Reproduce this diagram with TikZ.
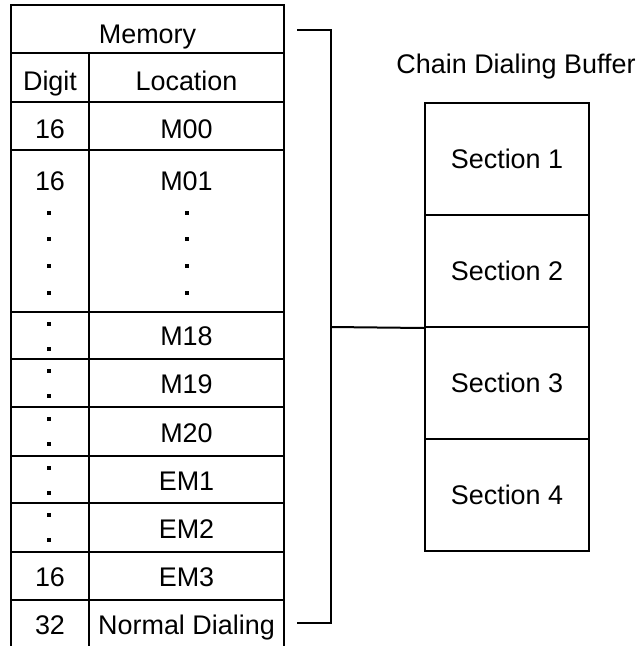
\documentclass[tikz,border=0pt]{standalone}
\usepackage{fontspec}
\setmainfont{Liberation Sans}
\begin{document}
\begin{tikzpicture}[
          tx/.style={inner sep=0pt, text height=14.5pt, text depth=0pt,
            font=\fontsize{20.2}{24}\selectfont},
          dt/.style={fill=black, inner sep=0pt, minimum size=2.7pt},
          sec/.style={draw, tx, minimum width=123pt, minimum height=84pt},
          ln/.style={line width=1.5pt},
          x=0.75pt,
          y=-0.75pt,
        ]
      \useasboundingbox (0, 0) rectangle (639, 646);
      % memory table
      \draw[ln] (11, 5) rectangle (284, 648);
      \draw[ln] (11, 53) -- (284, 53);
      \draw[ln] (89, 53) -- (89, 648);
      \foreach \y in {102, 150, 312, 359, 407, 456, 503, 552, 600}
        \draw[ln] (11, \y) -- (284, \y);
      \node[tx] (mem) at (147.5, 33.5) {Memory};
      \node[tx] (dig) at (50, 80.5) {Digit};
      \node[tx] (loc) at (186.5, 80.5) {Location};
      \node[tx] (d00) at (50, 129) {16};
      \node[tx] (m00) at (186.5, 129) {M00};
      \node[tx] (d01) at (50, 180.5) {16};
      \node[tx] (m01) at (186.5, 180.5) {M01};
      \node[tx] (m18) at (186.5, 336) {M18};
      \node[tx] (m19) at (186.5, 384) {M19};
      \node[tx] (m20) at (186.5, 432.5) {M20};
      \node[tx] (em1) at (186.5, 480.5) {EM1};
      \node[tx] (em2) at (186.5, 528.5) {EM2};
      \node[tx] (d3) at (50, 577) {16};
      \node[tx] (em3) at (186.5, 577) {EM3};
      \node[tx] (dn) at (50, 625) {32};
      \node[tx] (nd) at (186.5, 625) {Normal Dialing};
      % dots
      \foreach \y in {213, 239, 266, 293} {
        \node[dt] at (49, \y) {};
        \node[dt] at (187, \y) {};
      }
      \foreach \y in {312, 359, 407, 456, 503} {
        \node[dt] at (49, \y+12) {};
        \node[dt] at (49, \y+37) {};
      }
      % chain dialing buffer
      \node[tx] (cdb) at (516, 63.5) {Chain Dialing Buffer};
      \node[sec, ln] (s1) at (507, 159) {Section 1};
      \node[sec, ln] (s2) at (507, 271) {Section 2};
      \node[sec, ln] (s3) at (507, 383) {Section 3};
      \node[sec, ln] (s4) at (507, 495) {Section 4};
      % bracket
      \coordinate (bt) at (297, 30);
      \coordinate (bb) at (297, 623);
      \coordinate (bm) at (331, 327);
      \draw[ln] (bt) -| (bm) |- (bb);
      \draw[ln] (bm) -- (s2.south west);
    \end{tikzpicture}
\end{document}
